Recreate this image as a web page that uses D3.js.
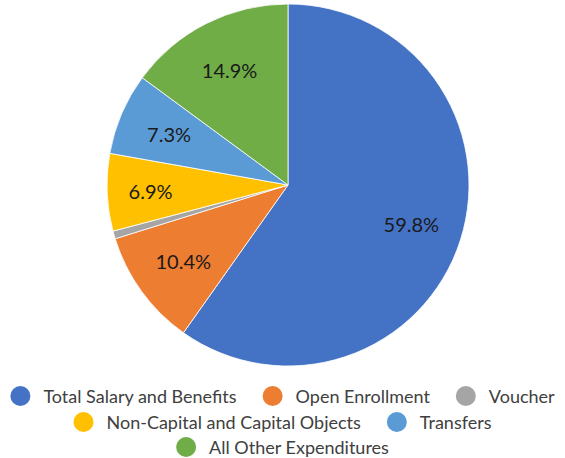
<!DOCTYPE html>
<html>
<head>
<meta charset="utf-8">
<script src="https://cdn.jsdelivr.net/npm/d3@7"></script>
<style>
  html, body { margin: 0; padding: 0; background: #fff; }
  svg { display: block; }
</style>
</head>
<body>
<svg id="chart" width="565" height="458"></svg>
<script>
// Expenditure breakdown
const categories = [
  "Total Salary and Benefits",
  "Open Enrollment",
  "Voucher",
  "Non-Capital and Capital Objects",
  "Transfers",
  "All Other Expenditures"
];
const shares = [59.8, 10.4, 0.7, 6.9, 7.3, 14.9];
const labels = ["59.8%", "10.4%", "", "6.9%", "7.3%", "14.9%"];
const colors = ["#4472C4", "#ED7D31", "#A5A5A5", "#FFC000", "#5B9BD5", "#70AD47"];
// Legend rows (indices into categories)
const legendRows = [[0, 1, 2], [3, 4], [5]];

const svg = d3.select("#chart");
const W = 565;
const cx = 288, cy = 185, R = 181;
const font = "Lato, Carlito, Calibri, sans-serif";

const data = categories.map((c, i) => ({ name: c, value: shares[i], label: labels[i], color: colors[i] }));

const pie = d3.pie().sort(null).value(d => d.value);
const arcs = pie(data);
const arc = d3.arc().innerRadius(0).outerRadius(R);

const g = svg.append("g").attr("transform", `translate(${cx},${cy})`);

g.selectAll("path.slice")
  .data(arcs)
  .join("path")
  .attr("class", "slice")
  .attr("d", arc)
  .attr("fill", d => d.data.color)
  .attr("stroke", "#fff")
  .attr("stroke-width", 0.8);

// Narrow slices get their label pushed a little further out
const labelArc = d => {
  const k = d.data.value < 7 ? 0.76 : 0.715;
  return d3.arc().innerRadius(R * k).outerRadius(R * k).centroid(d);
};

g.selectAll("text.lbl")
  .data(arcs.filter(d => d.data.label))
  .join("text")
  .attr("class", "lbl")
  .attr("transform", d => `translate(${labelArc(d)})`)
  .attr("text-anchor", "middle")
  .attr("dominant-baseline", "central")
  .style("font-family", font)
  .style("font-size", "20px")
  .attr("fill", "#1a1a1a")
  .text(d => d.data.label);

// Legend
const legend = svg.append("g");
const rowY = [396, 422, 447];
const markerR = 10, markerGap = 13, itemGap = 26;
const fs = 18;

legendRows.forEach((row, ri) => {
  const rowG = legend.append("g");
  let x = 0;
  row.forEach(idx => {
    const item = rowG.append("g").attr("transform", `translate(${x},0)`);
    item.append("circle")
      .attr("cx", markerR).attr("cy", 0).attr("r", markerR)
      .attr("fill", colors[idx]);
    const t = item.append("text")
      .attr("x", markerR * 2 + markerGap)
      .attr("y", 0)
      .attr("dominant-baseline", "central")
      .style("font-family", font)
      .style("font-size", fs + "px")
      .attr("fill", "#404040")
      .text(categories[idx]);
    x += markerR * 2 + markerGap + t.node().getComputedTextLength() + itemGap;
  });
  const width = x - itemGap;
  rowG.attr("transform", `translate(${(W - width) / 2},${rowY[ri]})`);
});
</script>
</body>
</html>
